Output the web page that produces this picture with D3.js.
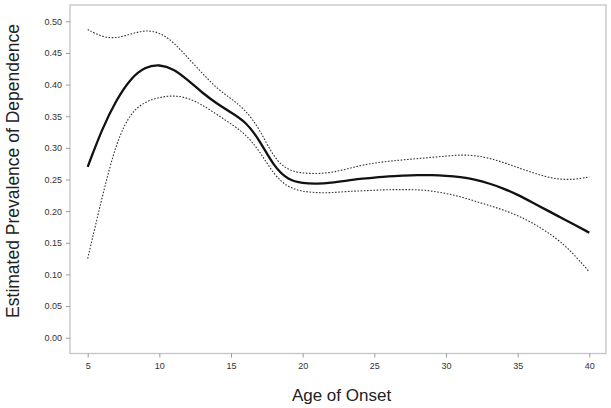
<!DOCTYPE html>
<html><head><meta charset="utf-8">
<script src="https://cdn.jsdelivr.net/npm/d3@7"></script>
<style>
html,body{margin:0;padding:0;background:#fff;}
svg{display:block;font-family:"Liberation Sans",Arial,Helvetica,sans-serif;}
</style></head>
<body>
<svg id="chart" width="611" height="408"></svg>
<script>
const ages = [5,6,7,8,9,10,11,12,13,14,15,16,17,18,19,20,21,22,23,24,25,26,27,28,29,30,31,32,33,34,35,36,37,38,39,40];
const estimate = [0.270,0.330,0.376,0.410,0.428,0.432,0.425,0.407,0.387,0.370,0.356,0.342,0.312,0.270,0.249,0.244,0.243,0.245,0.248,0.251,0.253,0.255,0.256,0.257,0.257,0.256,0.254,0.250,0.244,0.236,0.226,0.214,0.202,0.190,0.178,0.166];
const upper = [0.487,0.475,0.473,0.480,0.486,0.483,0.467,0.442,0.418,0.394,0.378,0.360,0.330,0.283,0.264,0.260,0.259,0.261,0.266,0.272,0.276,0.279,0.281,0.283,0.285,0.287,0.289,0.288,0.284,0.277,0.269,0.261,0.254,0.250,0.250,0.254];
const lower = [0.125,0.222,0.310,0.356,0.373,0.380,0.383,0.379,0.368,0.353,0.338,0.322,0.295,0.257,0.237,0.231,0.229,0.229,0.231,0.232,0.233,0.234,0.234,0.234,0.232,0.228,0.223,0.216,0.209,0.202,0.193,0.182,0.168,0.152,0.130,0.104];
const xTicks = [5,10,15,20,25,30,35,40];
const yTicks = [0,0.05,0.10,0.15,0.20,0.25,0.30,0.35,0.40,0.45,0.50];
const xTitle = "Age of Onset";
const yTitle = "Estimated Prevalence of Dependence";

const svg = d3.select("#chart");
const frame = {left:70, right:606, top:5, bottom:353.5};
const x = d3.scaleLinear().domain([5,40]).range([87.7,589.3]);
const y = d3.scaleLinear().domain([0,0.5]).range([337.7,21.3]);

svg.append("rect")
  .attr("x",frame.left).attr("y",frame.top)
  .attr("width",frame.right-frame.left).attr("height",frame.bottom-frame.top)
  .attr("fill","none").attr("stroke","#c4c4c4").attr("stroke-width",1.3);

const xAxis = svg.append("g").attr("transform",`translate(0,${frame.bottom})`)
  .call(d3.axisBottom(x).tickValues(xTicks).tickSize(4).tickPadding(5).tickFormat(d3.format("d")));
const yAxis = svg.append("g").attr("transform",`translate(${frame.left},0)`)
  .call(d3.axisLeft(y).tickValues(yTicks).tickSize(4).tickPadding(4).tickFormat(d3.format(".2f")));
[xAxis,yAxis].forEach(g=>{
  g.select(".domain").remove();
  g.selectAll(".tick line").attr("stroke","#9a9a9a");
  g.selectAll(".tick text").attr("fill","#333").style("font-size","9px")
   .style("font-family","'Liberation Sans',Arial,sans-serif");
});

const mk = vals => d3.line().x((d,i)=>x(ages[i])).y(d=>y(d)).curve(d3.curveBasis)(vals);

svg.append("path").attr("d",mk(upper)).attr("fill","none")
  .attr("stroke","#333").attr("stroke-width",1.1).attr("stroke-dasharray","1.6,1.6");
svg.append("path").attr("d",mk(lower)).attr("fill","none")
  .attr("stroke","#333").attr("stroke-width",1.1).attr("stroke-dasharray","1.6,1.6");
svg.append("path").attr("d",mk(estimate)).attr("fill","none")
  .attr("stroke","#111").attr("stroke-width",2.3);

svg.append("text").attr("x",341.5).attr("y",400.5).attr("text-anchor","middle")
  .style("font-size","17px").attr("fill","#222").text(xTitle);
svg.append("text").attr("transform","translate(18.5,171) rotate(-90)").attr("text-anchor","middle")
  .style("font-size","17.5px").attr("fill","#222").text(yTitle);
</script>
</body></html>
